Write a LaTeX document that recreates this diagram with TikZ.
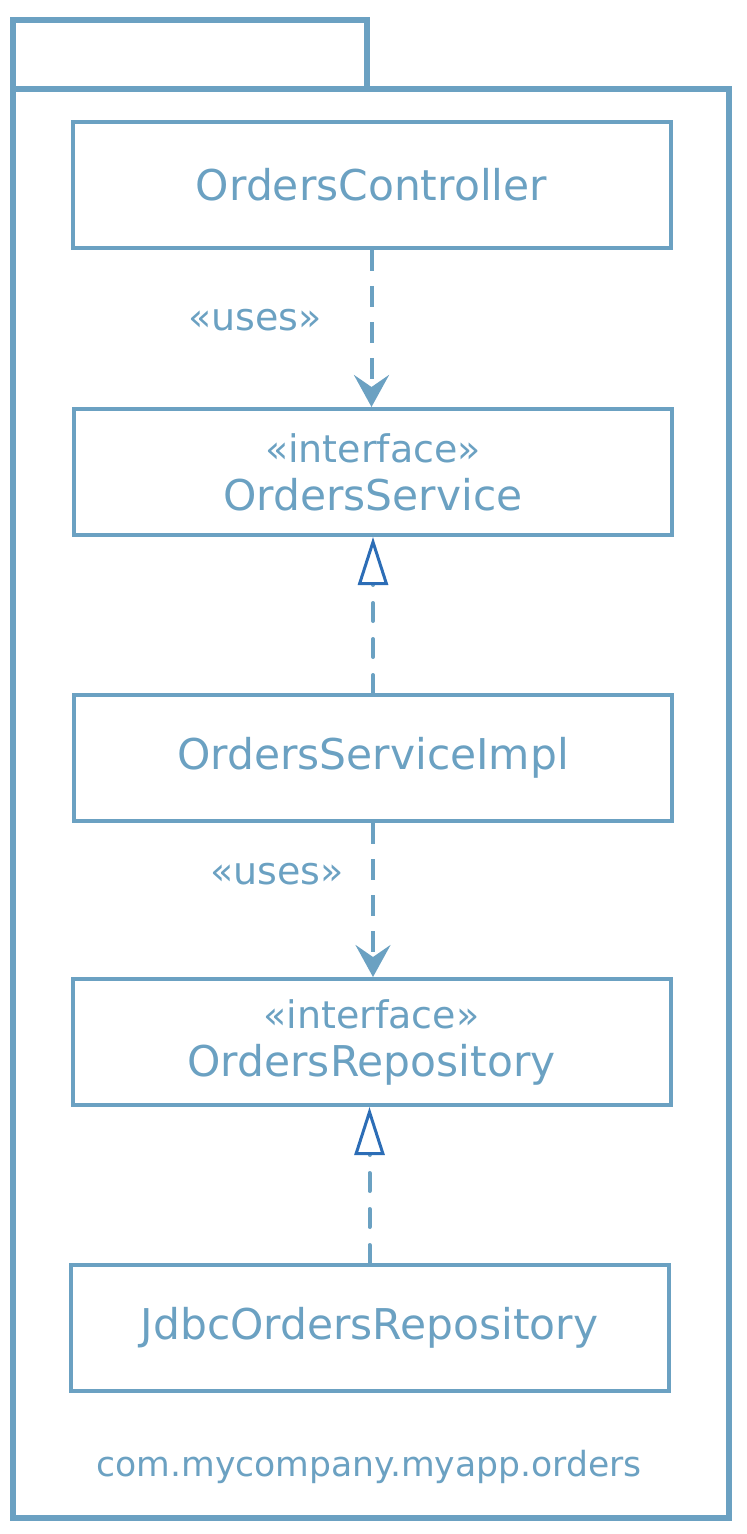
\documentclass[tikz,border=0pt]{standalone}
\usepackage{fontspec}
\setmainfont{DejaVu Sans}
\usetikzlibrary{arrows.meta}
\definecolor{umlblue}{HTML}{6BA1C2}
\definecolor{realblue}{HTML}{2C6DB6}
\begin{document}
\begin{tikzpicture}[x=0.5pt,y=-0.5pt,
  pkg/.style={draw=umlblue,line width=3pt},
  cls/.style={draw=umlblue,line width=2pt,minimum width=299pt,minimum height=63pt,inner sep=0pt,text=umlblue,align=center,font=\fontsize{21.2}{24}\selectfont},
  stereo/.style={text=umlblue,font=\fontsize{19}{20}\selectfont},
  uses/.style={draw=umlblue,line width=2pt,dash pattern=on 10.5pt off 7.5pt,-{Stealth[length=16pt,width=17.5pt,inset=6pt]}},
  realizes/.style={draw=umlblue,line width=2pt,line cap=round,dash pattern=on 9pt off 9pt,-{Triangle[open,length=24pt,width=15pt,line width=1.5pt,color=realblue,fill=white]}}]
\useasboundingbox (0,0) rectangle (746,1534);
% package frame
\draw[pkg] (13,20) rectangle (367,89);
\draw[pkg] (13,89) rectangle (729,1518);
\node[stereo,font=\fontsize{17.3}{20}\selectfont] (pkgname) at (369,1467) {com.mycompany.myapp.orders};
% classes
\node[cls] at (371.5,185) (controller) {OrdersController};
\node[cls] at (373,472) (service) {{\fontsize{19}{20}\selectfont «interface»}\\OrdersService};
\node[cls] at (373,758) (impl) {OrdersServiceImpl};
\node[cls] at (371.5,1042) (repo) {{\fontsize{19}{20}\selectfont «interface»}\\OrdersRepository};
\node[cls] at (369.5,1328) (jdbc) {JdbcOrdersRepository};
% dependencies
\draw[uses] (controller.south) -- (controller.south |- service.north);
\node[stereo] at (255,320) (uses1) {«uses»};
\draw[uses] (impl.south) -- (impl.south |- repo.north);
\node[stereo] at (277,874) (uses2) {«uses»};
% realizations
\draw[realizes] (impl.north) -- (impl.north |- service.south);
\draw[realizes] (jdbc.north) -- (jdbc.north |- repo.south);
\end{tikzpicture}
\end{document}
